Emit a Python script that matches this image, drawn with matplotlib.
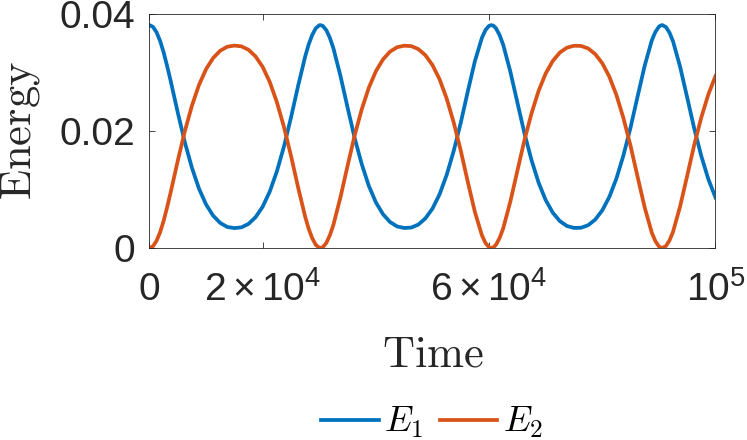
import matplotlib
matplotlib.use("Agg")
import matplotlib.pyplot as plt
from matplotlib.font_manager import FontProperties

# === Data ===
time = [0, 1250, 2500, 3750, 5000, 6250, 7500, 8750, 10000, 11250,
        12500, 13750, 15000, 16250, 17500, 18750, 20000, 21250, 22500, 23750,
        25000, 26250, 27500, 28750, 30000, 30200, 31250, 32500, 33750, 35000,
        36250, 37500, 38750, 40000, 41250, 42500, 43750, 45000, 46250, 47500,
        48750, 50000, 51250, 52500, 53750, 55000, 56250, 57500, 58750, 60000,
        60400, 61250, 62500, 63750, 65000, 66250, 67500, 68750, 70000, 71250,
        72500, 73750, 75000, 76250, 77500, 78750, 80000, 81250, 82500, 83750,
        85000, 86250, 87500, 88750, 90000, 90600, 91250, 92500, 93750, 95000,
        96250, 97500, 98750, 100000]

e1 = [0.03810, 0.03687, 0.03345, 0.02854, 0.02315, 0.01806, 0.01371, 0.01014, 0.00743, 0.00552,
      0.00428, 0.00359, 0.00340, 0.00353, 0.00412, 0.00527, 0.00706, 0.00964, 0.01307, 0.01731,
      0.02229, 0.02767, 0.03270, 0.03641, 0.03807, 0.03810, 0.03723, 0.03412, 0.02938, 0.02401,
      0.01880, 0.01434, 0.01063, 0.00780, 0.00578, 0.00444, 0.00368, 0.00342, 0.00349, 0.00400,
      0.00506, 0.00673, 0.00917, 0.01246, 0.01658, 0.02143, 0.02681, 0.03195, 0.03597, 0.03798,
      0.03810, 0.03751, 0.03472, 0.03018, 0.02487, 0.01960, 0.01501, 0.01117, 0.00819, 0.00604,
      0.00460, 0.00376, 0.00343, 0.00346, 0.00389, 0.00485, 0.00643, 0.00874, 0.01188, 0.01587,
      0.02061, 0.02595, 0.03118, 0.03549, 0.03782, 0.03810, 0.03777, 0.03533, 0.03098, 0.02573,
      0.02041, 0.01570, 0.01174, 0.00863]

e2 = [0.00000, 0.00123, 0.00464, 0.00954, 0.01491, 0.01998, 0.02432, 0.02788, 0.03058, 0.03248,
      0.03372, 0.03441, 0.03460, 0.03447, 0.03388, 0.03274, 0.03095, 0.02838, 0.02495, 0.02073,
      0.01577, 0.01040, 0.00538, 0.00168, 0.00003, 0.00000, 0.00087, 0.00397, 0.00870, 0.01405,
      0.01924, 0.02369, 0.02739, 0.03021, 0.03223, 0.03357, 0.03432, 0.03458, 0.03451, 0.03400,
      0.03295, 0.03127, 0.02885, 0.02557, 0.02146, 0.01663, 0.01126, 0.00613, 0.00213, 0.00012,
      0.00000, 0.00059, 0.00337, 0.00790, 0.01319, 0.01844, 0.02302, 0.02686, 0.02983, 0.03197,
      0.03341, 0.03424, 0.03457, 0.03454, 0.03411, 0.03315, 0.03158, 0.02928, 0.02614, 0.02216,
      0.01744, 0.01212, 0.00690, 0.00261, 0.00028, 0.00000, 0.00033, 0.00276, 0.00710, 0.01233,
      0.01764, 0.02233, 0.02628, 0.02939]

# extra readings around the sharp E1 peaks / E2 dips
time_extra = [625, 1875, 3125, 28125, 29375, 30625, 31875,
              59375, 60800, 61875, 89375, 90300, 91875]
e1_extra = [0.03780, 0.03541, 0.03108, 0.03480, 0.03755, 0.03796, 0.03591,
            0.03727, 0.03798, 0.03636, 0.03692, 0.03803, 0.03681]
e2_extra = [0.00030, 0.00268, 0.00700, 0.00329, 0.00055, 0.00014, 0.00218,
            0.00083, 0.00012, 0.00174, 0.00118, 0.00007, 0.00129]

xticks = [0, 20000, 60000, 100000]
xticklabels = ['0', r'$2\times10^{4}$', r'$6\times10^{4}$', r'$10^{5}$']
yticks = [0, 0.02, 0.04]
yticklabels = ['0', '0.02', '0.04']

# merge the two sets of readings in time order
rows = sorted(zip(time + time_extra, e1 + e1_extra, e2 + e2_extra))
t_all = [r[0] for r in rows]
e1_all = [r[1] for r in rows]
e2_all = [r[2] for r in rows]

# === Style ===
DARK = '#262626'
plt.rcParams['font.family'] = ['Liberation Sans', 'DejaVu Sans']
plt.rcParams['mathtext.fontset'] = 'custom'
plt.rcParams['mathtext.rm'] = 'Liberation Sans'
plt.rcParams['mathtext.it'] = 'Liberation Sans:italic'
plt.rcParams['mathtext.bf'] = 'Liberation Sans:bold'

fig = plt.figure(figsize=(7.47, 4.40), dpi=100)
ax = fig.add_axes([0.2001, 0.4364, 0.7577, 0.5318])

ax.plot(t_all, e1_all, color='#0072BD', lw=2.7, label=r'$E_1$',
        solid_joinstyle='round')
ax.plot(t_all, e2_all, color='#D95319', lw=2.7, label=r'$E_2$',
        solid_joinstyle='round')

ax.set_xlim(0, 100000)
ax.set_ylim(0, 0.04)
ax.set_xticks(xticks)
ax.set_xticklabels(xticklabels)
ax.set_yticks(yticks)
ax.set_yticklabels(yticklabels)

ax.tick_params(direction='in', length=4, width=0.6, top=True, right=True,
               labelsize=28, colors=DARK)
ax.tick_params(axis='x', pad=17)
ax.tick_params(axis='y', pad=10)
for s in ax.spines.values():
    s.set_linewidth(0.6)
    s.set_color(DARK)

ax.set_xlabel(r'$\mathrm{Time}$', fontsize=32, math_fontfamily='cm', color=DARK)
ax.xaxis.set_label_coords(0.5, -0.37)
ax.set_ylabel(r'$\mathrm{Energy}$', fontsize=32, math_fontfamily='cm', color=DARK)
ax.yaxis.set_label_coords(-0.19, 0.5)

fig.legend(loc='center', bbox_to_anchor=(0.578, 0.039), ncol=2, frameon=False,
           prop=FontProperties(size=26, math_fontfamily='cm'),
           handlelength=1.6, handletextpad=0.15, columnspacing=0.45)

fig.savefig('out.png', dpi=100)
